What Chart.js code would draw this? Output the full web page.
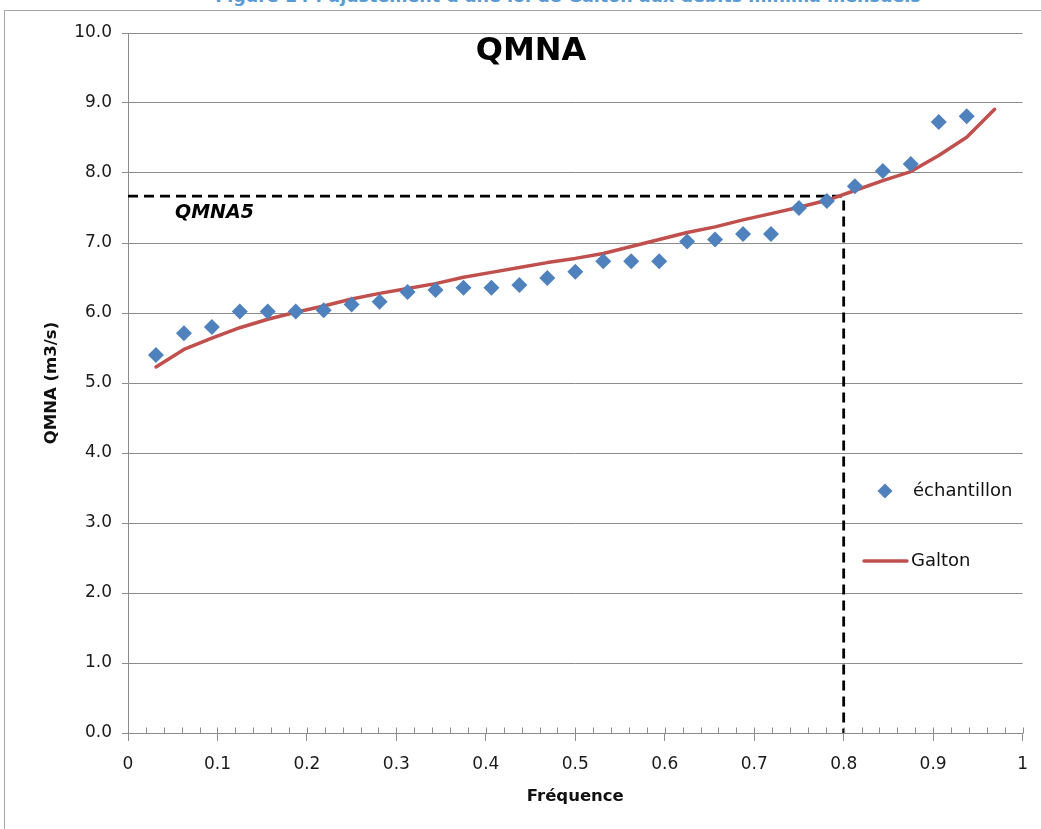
<!DOCTYPE html>
<html>
<head>
<meta charset="utf-8">
<script src="https://cdn.jsdelivr.net/npm/chart.js@4.4.1/dist/chart.umd.min.js"></script>
<style>
  html, body { margin: 0; padding: 0; background: #ffffff; overflow: hidden; }
  #wrap { position: relative; width: 1041px; height: 829px; overflow: hidden; }
  #frame { position: absolute; left: 4px; top: 10px; width: 1200px; height: 1000px;
           border-left: 1px solid #a6a6a6; border-top: 1px solid #a6a6a6; }
  #caption { position: absolute; left: 0; top: -12px; width: 1041px; text-align: center;
             font: bold 17.5px "DejaVu Sans", sans-serif; line-height: 17px; color: #5b9bd5;
             white-space: nowrap; padding-left: 95px; box-sizing: border-box; }
  canvas { position: absolute; left: 0; top: 0; }
</style>
</head>
<body>
<div id="wrap">
  <div id="frame"></div>
  <div id="caption">Figure 14 : ajustement d'une loi de Galton aux débits minima mensuels</div>
  <canvas id="c" width="1041" height="829"></canvas>
</div>
<script>
// ---- Data ----
const sampleFreq = [0.03125, 0.0625, 0.09375, 0.125, 0.15625, 0.1875, 0.21875, 0.25, 0.28125, 0.3125,
                    0.34375, 0.375, 0.40625, 0.4375, 0.46875, 0.5, 0.53125, 0.5625, 0.59375, 0.625,
                    0.65625, 0.6875, 0.71875, 0.75, 0.78125, 0.8125, 0.84375, 0.875, 0.90625, 0.9375];
const sampleQ = [5.40, 5.71, 5.80, 6.02, 6.02, 6.02, 6.04, 6.12, 6.16, 6.30,
                 6.33, 6.36, 6.36, 6.40, 6.50, 6.59, 6.74, 6.74, 6.74, 7.02,
                 7.05, 7.13, 7.13, 7.50, 7.60, 7.81, 8.03, 8.13, 8.73, 8.81];
const galtonFreq = [0.03125, 0.0625, 0.09375, 0.125, 0.15625, 0.1875, 0.21875, 0.25, 0.28125, 0.3125,
                    0.34375, 0.375, 0.40625, 0.4375, 0.46875, 0.5, 0.53125, 0.5625, 0.59375, 0.625,
                    0.65625, 0.6875, 0.71875, 0.75, 0.78125, 0.8125, 0.84375, 0.875, 0.90625, 0.9375, 0.96875];
const galtonQ = [5.23, 5.48, 5.64, 5.79, 5.91, 6.01, 6.10, 6.20, 6.28, 6.35,
                 6.42, 6.51, 6.58, 6.65, 6.72, 6.78, 6.85, 6.95, 7.05, 7.15,
                 7.23, 7.33, 7.42, 7.51, 7.61, 7.75, 7.89, 8.02, 8.25, 8.51, 8.91];
const qmna5Freq = [0, 0.8, 0.8];
const qmna5Q = [7.67, 7.67, 0];
const seriesNames = ['échantillon', 'Galton'];
const chartTitle = 'QMNA';
const markLabel = 'QMNA5';
const xTitle = 'Fréquence';
const yTitle = 'QMNA (m3/s)';
const xMinorStep = 0.02;

const toPts = (xs, ys) => xs.map((x, i) => ({ x: x, y: ys[i] }));
const FONT = '"DejaVu Sans", sans-serif';
const GRID = '#8c8c8c';

const extras = {
  id: 'extras',
  afterDatasetsDraw(chart) {
    const ctx = chart.ctx;
    const xs = chart.scales.x, ys = chart.scales.y;
    const ds = chart.data.datasets;
    ctx.save();
    // minor ticks on the x axis (inside)
    ctx.strokeStyle = GRID;
    ctx.lineWidth = 1;
    const yAxis = Math.round(ys.getPixelForValue(0)) + 0.5;
    ctx.beginPath();
    for (let v = 0; v <= 1.0001; v += xMinorStep) {
      const px = Math.round(xs.getPixelForValue(v)) + 0.5;
      ctx.moveTo(px, yAxis);
      ctx.lineTo(px, yAxis - 6);
    }
    ctx.stroke();

    // title inside plot
    ctx.fillStyle = '#000';
    ctx.font = 'bold 32px ' + FONT;
    ctx.textAlign = 'center';
    ctx.textBaseline = 'middle';
    ctx.fillText(chartTitle, 531, 52);

    // QMNA5 label
    ctx.font = 'italic bold 19px ' + FONT;
    ctx.textAlign = 'left';
    ctx.fillText(markLabel, 175, 213);

    // legend
    const lx = 885, ly1 = 491, ly2 = 561;
    ctx.fillStyle = ds[0].backgroundColor;
    ctx.beginPath();
    ctx.moveTo(lx - 7.5, ly1); ctx.lineTo(lx, ly1 - 7.5); ctx.lineTo(lx + 7.5, ly1); ctx.lineTo(lx, ly1 + 7.5);
    ctx.closePath(); ctx.fill();
    ctx.strokeStyle = ds[1].borderColor;
    ctx.lineWidth = 3.5;
    ctx.lineCap = 'round';
    ctx.beginPath(); ctx.moveTo(864, ly2); ctx.lineTo(907, ly2); ctx.stroke();
    ctx.fillStyle = '#111';
    ctx.font = '18px ' + FONT;
    ctx.textBaseline = 'middle';
    ctx.fillText(ds[0].label, 913, ly1);
    ctx.fillText(ds[1].label, 911, ly2);
    ctx.restore();
  }
};

new Chart(document.getElementById('c'), {
  type: 'scatter',
  data: {
    datasets: [
      {
        label: seriesNames[0],
        data: toPts(sampleFreq, sampleQ),
        backgroundColor: '#4f81bd',
        borderColor: '#4f81bd',
        borderWidth: 0,
        pointStyle: 'rectRot',
        pointRadius: 8,
        showLine: false
      },
      {
        label: seriesNames[1],
        data: toPts(galtonFreq, galtonQ),
        borderColor: '#c0504d',
        backgroundColor: '#c0504d',
        borderWidth: 3.5,
        pointRadius: 0,
        showLine: true,
        tension: 0,
        borderCapStyle: 'round',
        borderJoinStyle: 'round'
      },
      {
        label: markLabel,
        data: toPts(qmna5Freq, qmna5Q),
        borderColor: '#000000',
        borderWidth: 2.8,
        borderDash: [10, 6],
        pointRadius: 0,
        showLine: true,
        tension: 0
      }
    ]
  },
  options: {
    responsive: false,
    animation: false,
    layout: { padding: { left: 0, top: 33, right: 18, bottom: 0 } },
    plugins: { legend: { display: false }, tooltip: { enabled: false }, title: { display: false } },
    scales: {
      x: {
        type: 'linear', min: 0, max: 1,
        afterFit: s => { s.height = 96; },
        ticks: {
          stepSize: 0.1, autoSkip: false, maxRotation: 0, padding: 13,
          color: '#1a1a1a', font: { family: FONT, size: 17 },
          callback: v => String(Number(v.toFixed(1)))
        },
        grid: { drawOnChartArea: false, drawTicks: true, tickLength: 8, color: GRID, lineWidth: 1 },
        border: { display: true, color: GRID, width: 1 },
        title: {
          display: true, text: xTitle, color: '#111',
          font: { family: FONT, size: 16.5, weight: 'bold' },
          padding: { top: 0, bottom: 22 }
        }
      },
      y: {
        type: 'linear', min: 0, max: 10,
        afterFit: s => { s.width = 128; },
        ticks: {
          stepSize: 1, padding: 10,
          color: '#1a1a1a', font: { family: FONT, size: 17 },
          callback: v => v.toFixed(1)
        },
        grid: { drawOnChartArea: true, drawTicks: true, tickLength: 6, color: GRID, lineWidth: 1 },
        border: { display: true, color: GRID, width: 1 },
        title: {
          display: true, text: yTitle, color: '#111',
          font: { family: FONT, size: 16.5, weight: 'bold' },
          padding: { top: 42, bottom: 0 }
        }
      }
    }
  },
  plugins: [extras]
});
</script>
</body>
</html>
